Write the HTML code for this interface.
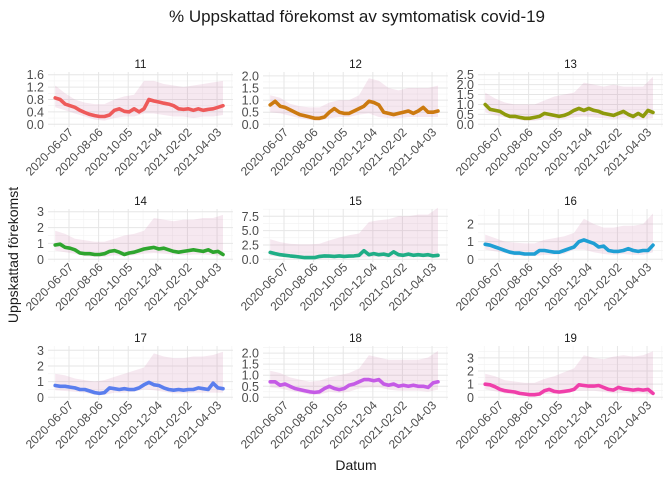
<!DOCTYPE html>
<html><head><meta charset="utf-8">
<style>
body{margin:0;background:#fff;}
svg{display:block;font-family:"Liberation Sans",sans-serif;}
</style></head>
<body>
<svg id="chart" width="672" height="480" viewBox="0 0 672 480">
<text x="357" y="22" font-size="17" text-anchor="middle" fill="#1a1a1a">% Uppskattad förekomst av symtomatisk covid-19</text>
<text x="356" y="470" font-size="14" text-anchor="middle" fill="#1a1a1a">Datum</text>
<text transform="translate(18,255) rotate(-90)" font-size="14" text-anchor="middle" fill="#1a1a1a">Uppskattad förekomst</text>
</svg>
<script>
const panels = ["11","12","13","14","15","16","17","18","19"];
const colors = ["#EE5A5A","#CC7A10","#8E9A0C","#2EA52E","#1FAE86","#1F9FD4","#5A7EEE","#C55BE6","#F03FAA"];
const dateTicks = ["2020-06-07","2020-08-06","2020-10-05","2020-12-04","2021-02-02","2021-04-03"];
const dateTickDays = [0,60,120,180,240,300];
const meanStartDay = -28, meanStep = 10;
const bandStartDay = -28, bandStep = 20;
const yMax = [1.6,2.05,2.5,3.0,8.3,2.7,3.1,2.2,3.7];
const yTicks = [[0,0.4,0.8,1.2,1.6],[0,0.5,1,1.5,2],[0,0.5,1,1.5,2,2.5],[0,1,2,3],[0,2.5,5,7.5],[0,1,2],[0,1,2,3],[0,0.5,1,1.5,2],[0,1,2,3]];
const yTickLabels = [["0.0","0.4","0.8","1.2","1.6"],["0.0","0.5","1.0","1.5","2.0"],["0.0","0.5","1.0","1.5","2.0","2.5"],["0","1","2","3"],["0.0","2.5","5.0","7.5"],["0","1","2"],["0","1","2","3"],["0.0","0.5","1.0","1.5","2.0"],["0","1","2","3"]];
const mean11 = [0.85,0.8,0.65,0.6,0.55,0.45,0.38,0.32,0.28,0.25,0.25,0.3,0.45,0.5,0.42,0.4,0.5,0.4,0.5,0.8,0.75,0.72,0.68,0.65,0.6,0.5,0.48,0.5,0.45,0.5,0.45,0.48,0.5,0.55,0.6];
const mean12 = [0.8,0.95,0.75,0.7,0.6,0.5,0.4,0.35,0.3,0.25,0.25,0.3,0.5,0.65,0.5,0.45,0.45,0.55,0.65,0.75,0.95,0.9,0.8,0.5,0.45,0.4,0.45,0.5,0.55,0.45,0.55,0.7,0.5,0.5,0.55];
const mean13 = [1.0,0.75,0.7,0.65,0.5,0.4,0.4,0.35,0.3,0.3,0.35,0.4,0.55,0.5,0.45,0.4,0.45,0.55,0.7,0.8,0.7,0.8,0.7,0.65,0.55,0.5,0.45,0.55,0.65,0.5,0.4,0.55,0.4,0.7,0.6];
const mean14 = [0.9,0.95,0.75,0.7,0.6,0.4,0.35,0.35,0.3,0.3,0.35,0.5,0.55,0.45,0.3,0.4,0.45,0.55,0.65,0.7,0.75,0.65,0.7,0.6,0.5,0.45,0.5,0.55,0.6,0.55,0.5,0.6,0.45,0.5,0.3];
const mean15 = [1.2,1.0,0.8,0.7,0.6,0.5,0.4,0.3,0.3,0.3,0.5,0.6,0.55,0.5,0.6,0.5,0.55,0.6,0.7,1.5,0.8,1.0,0.8,0.9,0.7,1.3,0.8,0.7,0.9,0.7,0.8,0.7,0.8,0.6,0.7];
const mean16 = [0.85,0.8,0.7,0.6,0.5,0.4,0.35,0.35,0.3,0.3,0.3,0.5,0.5,0.45,0.4,0.4,0.5,0.6,0.7,1.0,1.1,1.0,0.9,0.7,0.75,0.5,0.45,0.45,0.5,0.6,0.5,0.45,0.5,0.5,0.8];
const mean17 = [0.75,0.7,0.7,0.65,0.6,0.5,0.5,0.4,0.3,0.25,0.3,0.6,0.55,0.5,0.55,0.5,0.5,0.6,0.8,0.95,0.8,0.75,0.6,0.5,0.45,0.5,0.45,0.5,0.5,0.6,0.55,0.5,0.9,0.6,0.55];
const mean18 = [0.7,0.7,0.55,0.6,0.5,0.4,0.35,0.3,0.25,0.22,0.25,0.4,0.5,0.4,0.35,0.4,0.55,0.6,0.7,0.8,0.8,0.75,0.8,0.6,0.55,0.6,0.5,0.55,0.5,0.55,0.5,0.5,0.45,0.65,0.7];
const mean19 = [1.0,0.95,0.8,0.6,0.5,0.45,0.4,0.3,0.25,0.2,0.2,0.25,0.5,0.6,0.45,0.4,0.45,0.5,0.6,0.95,0.9,0.85,0.85,0.9,0.75,0.6,0.55,0.75,0.65,0.6,0.55,0.6,0.55,0.6,0.3];
const upper11 = [1.25,1.0,0.8,0.7,0.65,0.65,0.8,0.9,0.95,1.4,1.4,1.3,1.25,1.2,1.25,1.3,1.35,1.4];
const upper12 = [1.2,1.1,0.85,0.75,0.7,0.7,0.9,1.0,1.0,1.2,1.9,1.8,1.5,1.4,1.5,1.5,1.5,1.6];
const upper13 = [1.6,1.3,1.1,1.0,1.0,1.0,1.2,1.4,1.5,1.6,2.1,2.0,1.9,2.0,1.9,1.9,1.9,2.4];
const upper14 = [1.8,1.6,1.3,1.2,1.1,1.1,1.3,1.5,1.6,1.8,2.6,2.5,2.4,2.5,2.5,2.6,2.6,2.8];
const upper15 = [3.5,3.0,2.7,2.6,2.6,2.7,3.3,3.8,4.2,4.5,6.5,6.8,7.0,7.5,7.5,7.8,7.8,9.0];
const upper16 = [1.4,1.2,1.0,0.95,0.9,0.9,1.1,1.2,1.3,1.5,2.3,2.0,1.8,1.8,1.9,1.9,2.0,2.6];
const upper17 = [1.5,1.4,1.2,1.1,1.0,1.1,1.3,1.5,1.7,1.9,2.8,2.6,2.5,2.5,2.6,2.6,2.7,2.9];
const upper18 = [1.2,1.1,0.9,0.8,0.7,0.75,0.9,1.0,1.1,1.3,1.9,1.8,1.7,1.7,1.7,1.7,1.8,2.1];
const upper19 = [1.8,1.6,1.3,1.2,1.1,1.1,1.4,1.6,1.9,2.2,3.2,3.0,2.9,3.1,3.2,3.1,3.2,3.5];
const lower11 = [0.55,0.45,0.35,0.25,0.15,0.12,0.2,0.25,0.25,0.35,0.35,0.3,0.25,0.25,0.2,0.25,0.25,0.3];
const lower12 = [0.5,0.45,0.35,0.25,0.18,0.15,0.25,0.3,0.3,0.4,0.45,0.3,0.25,0.25,0.3,0.3,0.3,0.3];
const lower13 = [0.6,0.45,0.35,0.25,0.18,0.18,0.25,0.25,0.25,0.35,0.4,0.35,0.3,0.25,0.3,0.25,0.25,0.3];
const lower14 = [0.55,0.45,0.35,0.2,0.15,0.15,0.25,0.2,0.25,0.35,0.4,0.35,0.3,0.25,0.3,0.3,0.25,0.2];
const lower15 = [0.6,0.45,0.35,0.2,0.1,0.1,0.2,0.2,0.25,0.3,0.35,0.35,0.3,0.3,0.35,0.35,0.3,0.3];
const lower16 = [0.55,0.45,0.35,0.22,0.18,0.18,0.25,0.25,0.3,0.55,0.55,0.4,0.3,0.25,0.3,0.25,0.25,0.4];
const lower17 = [0.45,0.4,0.35,0.3,0.15,0.15,0.3,0.3,0.35,0.5,0.45,0.35,0.25,0.25,0.3,0.3,0.3,0.3];
const lower18 = [0.45,0.4,0.3,0.22,0.12,0.12,0.25,0.2,0.25,0.4,0.45,0.45,0.35,0.3,0.3,0.3,0.25,0.35];
const lower19 = [0.6,0.45,0.3,0.2,0.1,0.1,0.25,0.25,0.25,0.5,0.5,0.5,0.4,0.3,0.35,0.3,0.3,0.15];
const means = [mean11,mean12,mean13,mean14,mean15,mean16,mean17,mean18,mean19];
const uppers = [upper11,upper12,upper13,upper14,upper15,upper16,upper17,upper18,upper19];
const lowers = [lower11,lower12,lower13,lower14,lower15,lower16,lower17,lower18,lower19];

const NS = "http://www.w3.org/2000/svg";
const svg = document.getElementById("chart");
const colX = [48,263,478], panelW = 185;
const rowTop = [72,209,346], rowBot = [127,262,400];
function mk(tag, attrs, parent){const e=document.createElementNS(NS,tag);for(const k in attrs)e.setAttribute(k,attrs[k]);(parent||svg).appendChild(e);return e;}

panels.forEach((name,p)=>{
  const c=p%3, r=Math.floor(p/3);
  const x0=colX[c], top=rowTop[r], bot=rowBot[r];
  const xs = d => x0 + 21 + d*0.4935;
  const ys = v => (bot-2.7) - v/yMax[p]*(bot-top-5.4);
  const g = mk("g",{});
  
  
  const yt=yTicks[p];
  for(let i=0;i<yt.length-1;i++){
    const v=(yt[i]+yt[i+1])/2;
    const l=mk("line",{x1:x0,x2:x0+panelW,y1:ys(v),y2:ys(v),stroke:"#f2f2f2","stroke-width":0.6},g);
    
    
  }
  const vTop=yt[yt.length-1]+(yt[1]-yt[0])/2;
  if(ys(vTop)>top){const l=mk("line",{x1:x0,x2:x0+panelW,y1:ys(vTop),y2:ys(vTop),stroke:"#f2f2f2","stroke-width":0.6},g);
    
    }
  for(let i=-1;i<dateTickDays.length;i++){
    const d=(i<0?dateTickDays[0]-30:dateTickDays[i]+30);
    const x=xs(d); if(x<x0||x>x0+panelW) continue;
    const l=mk("line",{x1:x,x2:x,y1:top,y2:bot,stroke:"#f2f2f2","stroke-width":0.6},g);
    
    
  }
  yt.forEach((v,i)=>{
    const l=mk("line",{x1:x0,x2:x0+panelW,y1:ys(v),y2:ys(v),stroke:"#e6e6e6","stroke-width":1},g);
    
    
    const t=mk("text",{x:x0-4,y:ys(v)+4.5,"font-size":12.5,"text-anchor":"end",fill:"#4d4d4d"},g);
    t.textContent=yTickLabels[p][i];
    
    
  });
  dateTickDays.forEach((d,i)=>{
    const x=xs(d);
    const l=mk("line",{x1:x,x2:x,y1:top,y2:bot,stroke:"#e6e6e6","stroke-width":1},g);
    
    
    const t=mk("text",{transform:`translate(${x+5},${bot+6}) rotate(-45)`,"font-size":12,"text-anchor":"end",fill:"#4d4d4d"},g);
    t.textContent=dateTicks[i];
    
    
  });
  const up=uppers[p], lo=lowers[p];
  let dpath="";
  up.forEach((v,i)=>{dpath+=(i?"L":"M")+xs(bandStartDay+i*bandStep).toFixed(1)+","+ys(v).toFixed(1);});
  for(let i=lo.length-1;i>=0;i--){dpath+="L"+xs(bandStartDay+i*bandStep).toFixed(1)+","+ys(lo[i]).toFixed(1);}
  const rb=mk("path",{d:dpath+"Z",fill:"rgba(205,130,170,0.18)",stroke:"none"},g);
  
  
  const m=means[p];
  let lp="";
  m.forEach((v,i)=>{lp+=(i?"L":"M")+xs(meanStartDay+i*meanStep).toFixed(1)+","+ys(v).toFixed(1);});
  const ln=mk("path",{d:lp,fill:"none",stroke:colors[p],"stroke-width":3.6,"stroke-linejoin":"round","stroke-linecap":"round"},g);
  
  
  const tt=mk("text",{x:x0+panelW/2,y:top-4,"font-size":11.5,"text-anchor":"middle",fill:"#1a1a1a"},g);
  tt.textContent=name;
  
  
});
</script>
</body></html>
